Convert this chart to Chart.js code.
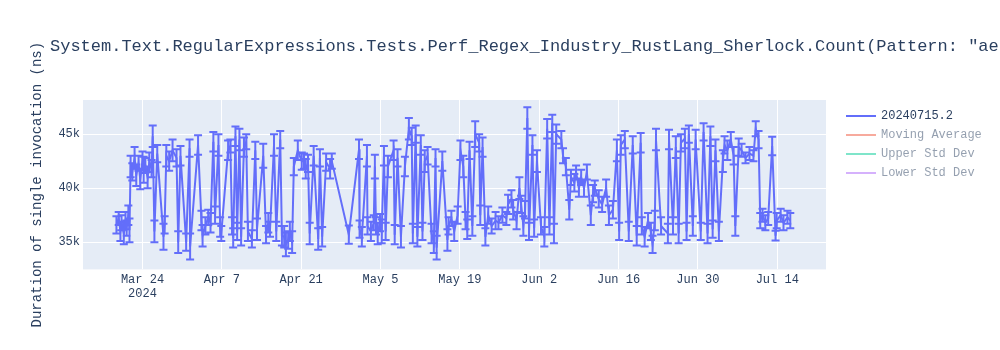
<!DOCTYPE html>
<html>
<head>
<meta charset="utf-8">
<script src="https://cdn.jsdelivr.net/npm/chart.js@4"></script>
<style>
  html, body { margin: 0; padding: 0; background: #fff; }
</style>
</head>
<body>
<canvas id="perf-chart" width="1000" height="350"></canvas>
<script>
const chart_title = 'System.Text.RegularExpressions.Tests.Perf_Regex_Industry_RustLang_Sherlock.Count(Pattern: "ae';
const y_title = "Duration of single invocation (ns)";
const series_names = ["20240715.2", "Moving Average", "Upper Std Dev", "Lower Std Dev"];
const series_colors = ["#636efa", "#EF553B", "#00cc96", "#ab63fa"];

// x is days since Mar 24 2024
const tick_days = [0, 14, 28, 42, 56, 70, 84, 98, 112];
const tick_labels = ["Mar 24", "Apr 7", "Apr 21", "May 5", "May 19", "Jun 2", "Jun 16", "Jun 30", "Jul 14"];
const first_tick_year = "2024";
const y_ticks = [35000, 40000, 45000];

const run_days = [
    -4.6, -4.2, -3.9, -3.7, -3.3, -3.0, -2.8, -2.5, -2.3, -2.1,
    -1.8, -1.4, -1.1, -0.7, -0.4, 0.0, 0.2, 0.5, 0.9, 1.2,
    1.6, 1.8, 2.1, 2.6, 3.7, 3.9, 4.2, 4.7, 5.3, 6.0,
    6.3, 6.7, 7.7, 8.3, 8.4, 9.8, 10.4, 10.6, 11.1, 11.6,
    12.0, 12.5, 12.8, 13.4, 13.7, 13.9, 15.1, 15.5, 15.8, 16.0,
    16.4, 16.7, 17.1, 17.4, 17.9, 18.3, 18.6, 19.3, 19.9, 20.2,
    21.3, 21.8, 22.2, 22.5, 23.2, 23.6, 24.3, 24.6, 25.0, 25.3,
    25.7, 26.0, 26.4, 26.7, 27.4, 28.1, 28.5, 28.8, 29.2, 29.5,
    30.2, 31.0, 31.3, 31.7, 32.4, 33.1, 33.4, 36.4, 38.2, 38.3,
    38.7, 39.6, 39.7, 40.3, 40.8, 41.0, 41.2, 41.5, 41.9, 42.2,
    42.6, 42.9, 43.3, 44.3, 44.5, 45.0, 45.6, 46.3, 47.0, 47.5,
    47.7, 48.2, 48.5, 49.1, 49.4, 49.8, 50.3, 51.0, 51.4, 51.7,
    51.9, 52.9, 53.8, 54.0, 54.5, 55.0, 55.6, 56.1, 56.6, 57.0,
    57.3, 57.7, 58.2, 58.7, 59.4, 59.6, 60.0, 60.5, 61.0, 61.6,
    62.3, 62.8, 63.5, 64.2, 64.5, 65.1, 65.4, 66.0, 66.5, 66.8,
    67.2, 67.5, 67.9, 68.2, 68.8, 69.1, 69.6, 70.3, 70.9, 71.4,
    71.8, 72.3, 72.6, 73.0, 73.9, 74.2, 74.7, 75.3, 75.6, 76.2,
    76.5, 77.0, 77.4, 77.9, 78.4, 79.1, 79.5, 79.8, 80.5, 81.1,
    81.8, 82.3, 83.0, 83.7, 84.1, 84.4, 85.1, 85.8, 86.5, 87.2,
    87.9, 88.1, 88.6, 89.2, 89.7, 90.0, 90.4, 90.6, 91.5, 92.7,
    92.9, 93.6, 94.1, 94.6, 95.0, 95.7, 96.0, 96.4, 97.1, 97.6,
    98.5, 99.0, 99.7, 100.2, 100.6, 101.1, 101.7, 102.4, 102.7, 103.2,
    103.8, 104.3, 104.6, 105.2, 105.7, 106.4, 107.1, 107.8, 108.2, 108.7,
    109.0, 109.4, 109.9, 110.4, 111.1, 111.7, 111.9, 112.6, 113.1, 113.8,
    114.3
];

const run_ns = [
    36600, 37200, 36000, 36800, 35800, 37000, 36300, 37500, 36100, 42000,
    41500, 42800, 41200, 42300, 40800, 42600, 41700, 42100, 41000, 42400,
    41800, 44800, 36000, 43200, 35500, 36600, 43000, 42500, 43500, 42800,
    35000, 43000, 35000, 43700, 34600, 44000, 37000, 35600, 36500, 37300,
    36800, 44300, 37500, 44000, 36400, 35800, 43500, 43900, 36500, 35400,
    44800, 36000, 44500, 35500, 43800, 44300, 36000, 35300, 43500, 36200,
    43000, 35700, 36800, 36200, 44000, 36000, 44500, 35600, 35500, 34800,
    35200, 36000, 35000, 42000, 43500, 42500, 42500, 41800, 42300, 35800,
    43000, 35300, 42800, 35500, 42400, 41800, 42500, 35700, 43600, 36200,
    35500, 43000, 36500, 36000, 36800, 42000, 36500, 35800, 36800, 36000,
    43000, 36000, 42000, 43500, 35700, 42800, 35500, 42000, 45500, 44800,
    35800, 45000, 35500, 44000, 36000, 42500, 43000, 35800, 35000, 42800,
    34500, 42500, 35200, 36500, 37200, 36000, 37500, 43500, 42000, 37000,
    36200, 43500, 36500, 45000, 44200, 37500, 43800, 35500, 37500, 36500,
    37000, 36800, 37500, 37200, 38500, 39000, 38000, 37000, 40000, 38500,
    36500, 38000, 46500, 36000, 44000, 36300, 42500, 36500, 35500, 45500,
    36500, 46000, 35800, 45000, 44500, 43000, 42000, 38000, 41000, 40500,
    41500, 40000, 41000, 40000, 41500, 37500, 39500, 40000, 39000, 38500,
    40000, 37500, 38000, 43500, 36000, 44000, 44500, 36000, 44000, 35600,
    44200, 36500, 35500, 37000, 36000, 34800, 37000, 44500, 36500, 35800,
    44500, 36500, 43800, 35800, 44200, 44600, 36000, 45000, 36500, 44500,
    36000, 45200, 35800, 44800, 36200, 43500, 36000, 42500, 44000, 43500,
    44500, 43000, 36500, 43800, 43500, 42800, 43200, 43000, 45500, 44500,
    37000, 37500, 36800, 37200, 43900, 35600, 37000, 37500, 36800, 37300,
    37000
];

const run_err = [
    800, 600, 900, 700, 1000, 800, 700, 900, 1100, 1000,
    800, 1000, 1000, 700, 900, 800, 1200, 700, 1000, 900,
    800, 1000, 1000, 800, 1200, 800, 1000, 900, 1000, 800,
    1000, 900, 800, 800, 1200, 900, 900, 1000, 800, 700,
    900, 900, 800, 1000, 900, 700, 900, 600, 800, 900,
    900, 800, 1000, 800, 900, 700, 900, 800, 800, 1000,
    1100, 800, 900, 700, 1000, 900, 800, 900, 1000, 1100,
    800, 900, 1000, 800, 900, 800, 700, 900, 800, 1000,
    900, 1000, 800, 900, 800, 900, 700, 850, 900, 800,
    900, 1000, 800, 900, 700, 1100, 800, 1000, 800, 1100,
    900, 800, 1000, 900, 900, 800, 1000, 900, 1000, 800,
    900, 800, 900, 900, 800, 1000, 800, 900, 1000, 800,
    1100, 900, 1000, 800, 700, 900, 800, 900, 1000, 800,
    900, 800, 900, 1200, 800, 900, 900, 800, 800, 700,
    800, 600, 700, 600, 900, 800, 900, 800, 1000, 800,
    900, 800, 1000, 800, 900, 800, 1000, 800, 900, 900,
    800, 800, 900, 900, 800, 700, 800, 900, 700, 800,
    600, 800, 700, 800, 700, 900, 800, 700, 800, 700,
    800, 900, 800, 1000, 800, 900, 800, 900, 800, 900,
    900, 800, 900, 700, 800, 800, 900, 1000, 800, 900,
    900, 800, 1000, 900, 800, 900, 800, 800, 900, 900,
    800, 800, 900, 900, 800, 1000, 900, 1000, 800, 900,
    700, 800, 900, 800, 600, 500, 600, 500, 700, 800,
    700, 600, 700, 600, 850, 450, 700, 600, 700, 600,
    700
];

const font_family = '"Courier New", "Liberation Mono", monospace';
const text_color = "#2a3f5f";

// light blue plot background like plotly's default template
const plotBackground = {
    id: "plotBackground",
    beforeDraw(chart) {
        const { ctx, chartArea } = chart;
        ctx.save();
        ctx.fillStyle = "#e5ecf6";
        ctx.fillRect(chartArea.left, chartArea.top, chartArea.width, chartArea.height);
        ctx.restore();
    }
};

// symmetric error bars with caps, one per run
const errorBars = {
    id: "errorBars",
    beforeDatasetsDraw(chart) {
        const { ctx, chartArea, scales } = chart;
        ctx.save();
        ctx.beginPath();
        ctx.rect(chartArea.left, chartArea.top, chartArea.width, chartArea.height);
        ctx.clip();
        ctx.strokeStyle = series_colors[0];
        ctx.lineWidth = 2;
        ctx.beginPath();
        for (let i = 0; i < run_days.length; i++) {
            const px = scales.x.getPixelForValue(run_days[i]);
            const top = scales.y.getPixelForValue(run_ns[i] + run_err[i]);
            const bot = scales.y.getPixelForValue(run_ns[i] - run_err[i]);
            ctx.moveTo(px, top);
            ctx.lineTo(px, bot);
            ctx.moveTo(px - 4, top);
            ctx.lineTo(px + 4, top);
            ctx.moveTo(px - 4, bot);
            ctx.lineTo(px + 4, bot);
        }
        ctx.stroke();
        ctx.restore();
    }
};

const titleText = {
    id: "titleText",
    afterDraw(chart) {
        const ctx = chart.ctx;
        ctx.save();
        ctx.font = "17px " + font_family;
        ctx.fillStyle = text_color;
        ctx.textBaseline = "middle";
        ctx.fillText(chart_title, 50, 46);
        ctx.restore();
    }
};

// legend on the right, hidden traces are drawn faded
const sideLegend = {
    id: "sideLegend",
    afterDraw(chart) {
        const { ctx, chartArea } = chart;
        const x0 = chartArea.right + 20;
        ctx.save();
        ctx.font = "12px " + font_family;
        ctx.textBaseline = "middle";
        chart.data.datasets.forEach((ds, i) => {
            const y = chartArea.top + 16 + i * 19;
            ctx.globalAlpha = ds.hidden ? 0.5 : 1;
            ctx.strokeStyle = ds.borderColor;
            ctx.lineWidth = 2;
            ctx.beginPath();
            ctx.moveTo(x0, y);
            ctx.lineTo(x0 + 30, y);
            ctx.stroke();
            ctx.fillStyle = text_color;
            ctx.fillText(ds.label, x0 + 35, y);
        });
        ctx.restore();
    }
};

const run_points = run_days.map((d, i) => ({ x: d, y: run_ns[i] }));

const datasets = series_names.map((name, i) => ({
    label: name,
    data: i === 0 ? run_points : [],
    borderColor: series_colors[i],
    backgroundColor: series_colors[i],
    borderWidth: 2,
    pointRadius: 0,
    tension: 0,
    hidden: i !== 0
}));

const ctx = document.getElementById("perf-chart").getContext("2d");
const perfChart = new Chart(ctx, {
    type: "line",
    data: { datasets: datasets },
    plugins: [plotBackground, errorBars, titleText, sideLegend],
    options: {
        responsive: false,
        animation: false,
        layout: { padding: { top: 100, right: 174, bottom: 45.8, left: 24.6 } },
        plugins: {
            legend: { display: false },
            tooltip: { enabled: false }
        },
        scales: {
            x: {
                type: "linear",
                min: -10.5,
                max: 120.6,
                afterBuildTicks: (axis) => {
                    axis.ticks = tick_days.map((v) => ({ value: v }));
                },
                ticks: {
                    maxRotation: 0,
                    padding: 3,
                    color: text_color,
                    font: { family: font_family, size: 12 },
                    callback: (v) => {
                        const idx = tick_days.indexOf(v);
                        if (idx === 0) return [tick_labels[0], first_tick_year];
                        return tick_labels[idx];
                    }
                },
                grid: { color: "#ffffff", lineWidth: 1, drawTicks: false },
                border: { display: false }
            },
            y: {
                min: 32480,
                max: 48160,
                afterBuildTicks: (axis) => {
                    axis.ticks = y_ticks.map((v) => ({ value: v }));
                },
                ticks: {
                    padding: 3,
                    color: text_color,
                    font: { family: font_family, size: 12 },
                    callback: (v) => (v / 1000) + "k"
                },
                grid: { color: "#ffffff", lineWidth: 1, drawTicks: false },
                border: { display: false },
                title: {
                    display: true,
                    text: y_title,
                    color: text_color,
                    font: { family: font_family, size: 14 },
                    padding: { top: 4, bottom: 10 }
                }
            }
        }
    }
});
</script>
</body>
</html>
